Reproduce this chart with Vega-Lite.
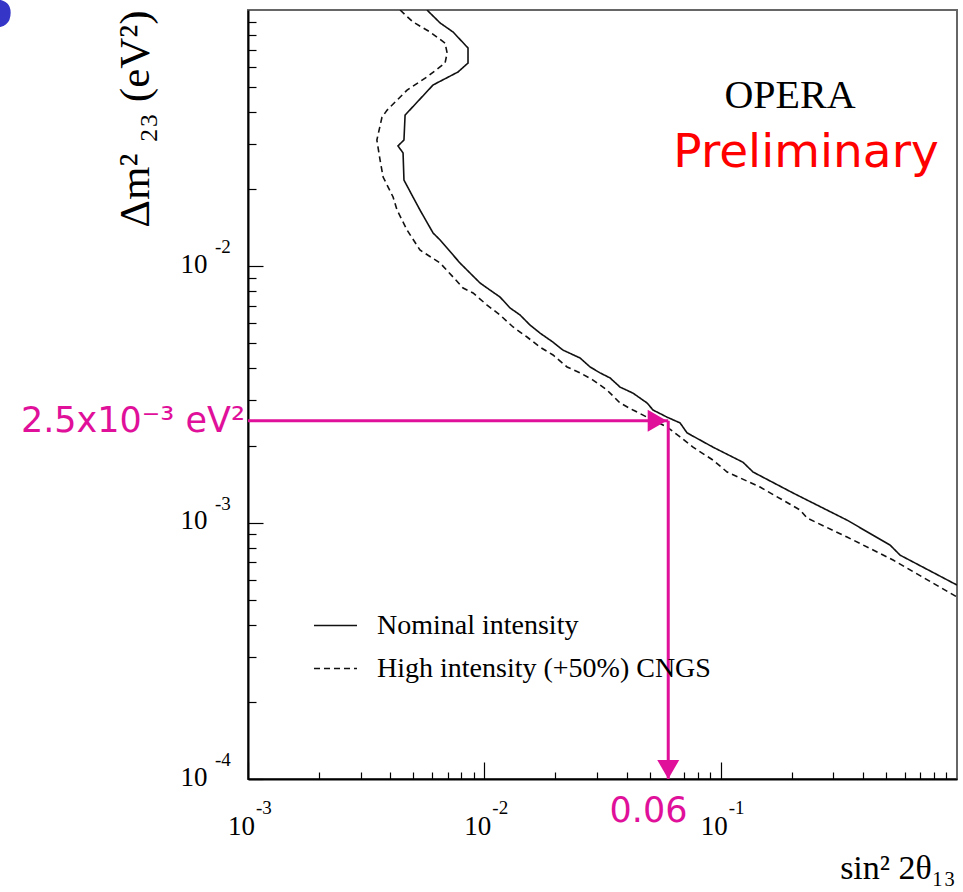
{
  "$schema": "https://vega.github.io/schema/vega-lite/v6.json",
  "width": 709,
  "height": 769,
  "autosize": {"type": "none"},
  "padding": {"left": 248, "top": 10, "right": 6, "bottom": 113},
  "background": "white",
  "config": {
    "view": {"stroke": "#666", "strokeWidth": 2},
    "legend": {"labelLimit": 0}
  },
  "datasets": {
    "curves": [
      {"series": "Nominal intensity", "order": 1, "x": 0.00572, "y": 0.1},
      {"series": "Nominal intensity", "order": 2, "x": 0.0065, "y": 0.089},
      {"series": "Nominal intensity", "order": 3, "x": 0.00737, "y": 0.0821},
      {"series": "Nominal intensity", "order": 4, "x": 0.00853, "y": 0.0711},
      {"series": "Nominal intensity", "order": 5, "x": 0.00853, "y": 0.0621},
      {"series": "Nominal intensity", "order": 6, "x": 0.00774, "y": 0.0573},
      {"series": "Nominal intensity", "order": 7, "x": 0.00607, "y": 0.051},
      {"series": "Nominal intensity", "order": 8, "x": 0.00462, "y": 0.0389},
      {"series": "Nominal intensity", "order": 9, "x": 0.00457, "y": 0.0311},
      {"series": "Nominal intensity", "order": 10, "x": 0.00431, "y": 0.0295},
      {"series": "Nominal intensity", "order": 11, "x": 0.00453, "y": 0.0277},
      {"series": "Nominal intensity", "order": 12, "x": 0.00457, "y": 0.0217},
      {"series": "Nominal intensity", "order": 13, "x": 0.00499, "y": 0.01864},
      {"series": "Nominal intensity", "order": 14, "x": 0.00534, "y": 0.01659},
      {"series": "Nominal intensity", "order": 15, "x": 0.00607, "y": 0.01349},
      {"series": "Nominal intensity", "order": 16, "x": 0.0065, "y": 0.01267},
      {"series": "Nominal intensity", "order": 17, "x": 0.00789, "y": 0.0103},
      {"series": "Nominal intensity", "order": 18, "x": 0.00959, "y": 0.00861},
      {"series": "Nominal intensity", "order": 19, "x": 0.01057, "y": 0.00808},
      {"series": "Nominal intensity", "order": 20, "x": 0.01165, "y": 0.00759},
      {"series": "Nominal intensity", "order": 21, "x": 0.01285, "y": 0.00688},
      {"series": "Nominal intensity", "order": 22, "x": 0.01416, "y": 0.00646},
      {"series": "Nominal intensity", "order": 23, "x": 0.01561, "y": 0.0059},
      {"series": "Nominal intensity", "order": 24, "x": 0.0172, "y": 0.00549},
      {"series": "Nominal intensity", "order": 25, "x": 0.01953, "y": 0.00506},
      {"series": "Nominal intensity", "order": 26, "x": 0.02153, "y": 0.00471},
      {"series": "Nominal intensity", "order": 27, "x": 0.02541, "y": 0.00439},
      {"series": "Nominal intensity", "order": 28, "x": 0.02801, "y": 0.00405},
      {"series": "Nominal intensity", "order": 29, "x": 0.03088, "y": 0.00384},
      {"series": "Nominal intensity", "order": 30, "x": 0.03404, "y": 0.00367},
      {"series": "Nominal intensity", "order": 31, "x": 0.03752, "y": 0.00338},
      {"series": "Nominal intensity", "order": 32, "x": 0.04258, "y": 0.0032},
      {"series": "Nominal intensity", "order": 33, "x": 0.04882, "y": 0.00293},
      {"series": "Nominal intensity", "order": 34, "x": 0.05175, "y": 0.00275},
      {"series": "Nominal intensity", "order": 35, "x": 0.05933, "y": 0.00258},
      {"series": "Nominal intensity", "order": 36, "x": 0.06733, "y": 0.00245},
      {"series": "Nominal intensity", "order": 37, "x": 0.07208, "y": 0.00224},
      {"series": "Nominal intensity", "order": 38, "x": 0.09288, "y": 0.00197},
      {"series": "Nominal intensity", "order": 39, "x": 0.1244, "y": 0.00172},
      {"series": "Nominal intensity", "order": 40, "x": 0.1371, "y": 0.001576},
      {"series": "Nominal intensity", "order": 41, "x": 0.2025, "y": 0.001305},
      {"series": "Nominal intensity", "order": 42, "x": 0.3426, "y": 0.001023},
      {"series": "Nominal intensity", "order": 43, "x": 0.5208, "y": 0.000818},
      {"series": "Nominal intensity", "order": 44, "x": 0.5743, "y": 0.000747},
      {"series": "Nominal intensity", "order": 45, "x": 1.0, "y": 0.000571},
      {"series": "High intensity (+50%) CNGS", "order": 1, "x": 0.0044, "y": 0.1},
      {"series": "High intensity (+50%) CNGS", "order": 2, "x": 0.00499, "y": 0.0898},
      {"series": "High intensity (+50%) CNGS", "order": 3, "x": 0.00589, "y": 0.0821},
      {"series": "High intensity (+50%) CNGS", "order": 4, "x": 0.00682, "y": 0.0743},
      {"series": "High intensity (+50%) CNGS", "order": 5, "x": 0.00696, "y": 0.068},
      {"series": "High intensity (+50%) CNGS", "order": 6, "x": 0.00682, "y": 0.0621},
      {"series": "High intensity (+50%) CNGS", "order": 7, "x": 0.00572, "y": 0.0548},
      {"series": "High intensity (+50%) CNGS", "order": 8, "x": 0.00471, "y": 0.0487},
      {"series": "High intensity (+50%) CNGS", "order": 9, "x": 0.00388, "y": 0.0407},
      {"series": "High intensity (+50%) CNGS", "order": 10, "x": 0.00369, "y": 0.0382},
      {"series": "High intensity (+50%) CNGS", "order": 11, "x": 0.00351, "y": 0.0311},
      {"series": "High intensity (+50%) CNGS", "order": 12, "x": 0.00362, "y": 0.026},
      {"series": "High intensity (+50%) CNGS", "order": 13, "x": 0.00373, "y": 0.0223},
      {"series": "High intensity (+50%) CNGS", "order": 14, "x": 0.00411, "y": 0.01864},
      {"series": "High intensity (+50%) CNGS", "order": 15, "x": 0.00427, "y": 0.01659},
      {"series": "High intensity (+50%) CNGS", "order": 16, "x": 0.00471, "y": 0.01386},
      {"series": "High intensity (+50%) CNGS", "order": 17, "x": 0.00534, "y": 0.01158},
      {"series": "High intensity (+50%) CNGS", "order": 18, "x": 0.0065, "y": 0.0103},
      {"series": "High intensity (+50%) CNGS", "order": 19, "x": 0.00737, "y": 0.00909},
      {"series": "High intensity (+50%) CNGS", "order": 20, "x": 0.00813, "y": 0.00823},
      {"series": "High intensity (+50%) CNGS", "order": 21, "x": 0.00896, "y": 0.00787},
      {"series": "High intensity (+50%) CNGS", "order": 22, "x": 0.01027, "y": 0.00706},
      {"series": "High intensity (+50%) CNGS", "order": 23, "x": 0.01165, "y": 0.00646},
      {"series": "High intensity (+50%) CNGS", "order": 24, "x": 0.01323, "y": 0.0058},
      {"series": "High intensity (+50%) CNGS", "order": 25, "x": 0.01516, "y": 0.0053},
      {"series": "High intensity (+50%) CNGS", "order": 26, "x": 0.0172, "y": 0.00484},
      {"series": "High intensity (+50%) CNGS", "order": 27, "x": 0.01953, "y": 0.00451},
      {"series": "High intensity (+50%) CNGS", "order": 28, "x": 0.02239, "y": 0.00405},
      {"series": "High intensity (+50%) CNGS", "order": 29, "x": 0.02541, "y": 0.00384},
      {"series": "High intensity (+50%) CNGS", "order": 30, "x": 0.02884, "y": 0.0036},
      {"series": "High intensity (+50%) CNGS", "order": 31, "x": 0.03306, "y": 0.00329},
      {"series": "High intensity (+50%) CNGS", "order": 32, "x": 0.03752, "y": 0.00293},
      {"series": "High intensity (+50%) CNGS", "order": 33, "x": 0.04258, "y": 0.00275},
      {"series": "High intensity (+50%) CNGS", "order": 34, "x": 0.04882, "y": 0.00258},
      {"series": "High intensity (+50%) CNGS", "order": 35, "x": 0.05933, "y": 0.00236},
      {"series": "High intensity (+50%) CNGS", "order": 36, "x": 0.06733, "y": 0.00216},
      {"series": "High intensity (+50%) CNGS", "order": 37, "x": 0.0764, "y": 0.00197},
      {"series": "High intensity (+50%) CNGS", "order": 38, "x": 0.09288, "y": 0.001754},
      {"series": "High intensity (+50%) CNGS", "order": 39, "x": 0.1065, "y": 0.001576},
      {"series": "High intensity (+50%) CNGS", "order": 40, "x": 0.1468, "y": 0.001377},
      {"series": "High intensity (+50%) CNGS", "order": 41, "x": 0.2168, "y": 0.00112},
      {"series": "High intensity (+50%) CNGS", "order": 42, "x": 0.2321, "y": 0.001042},
      {"series": "High intensity (+50%) CNGS", "order": 43, "x": 0.3426, "y": 0.000879},
      {"series": "High intensity (+50%) CNGS", "order": 44, "x": 0.5365, "y": 0.000715},
      {"series": "High intensity (+50%) CNGS", "order": 45, "x": 1.0, "y": 0.000513}
    ]
  },
  "layer": [
    {
      "data": {"name": "curves"},
      "mark": {"type": "line", "color": "#111", "strokeWidth": 1.6, "clip": true},
      "encoding": {
        "x": {
          "field": "x", "type": "quantitative",
          "scale": {"type": "log", "domain": [0.001, 1], "nice": false},
          "title": "sin² 2θ₁₃",
          "axis": {
            "values": [0.001, 0.002, 0.003, 0.004, 0.005, 0.006, 0.007, 0.008, 0.009, 0.01, 0.02, 0.03, 0.04, 0.05, 0.06, 0.07, 0.08, 0.09, 0.1, 0.2, 0.3, 0.4, 0.5, 0.6, 0.7, 0.8, 0.9],
            "labelExpr": "abs(log(datum.value)/LN10 - round(log(datum.value)/LN10)) < 0.001 ? '10' : ''",
            "tickSize": {"condition": {"test": "abs(log(datum.value)/LN10 - round(log(datum.value)/LN10)) < 0.001", "value": -17}, "value": -7},
            "tickColor": "#000", "tickWidth": 1.2,
            "domainColor": "#000", "domainWidth": 2,
            "grid": false,
            "labelFont": "Liberation Serif", "labelFontSize": 27, "labelColor": "#000",
            "labelBaseline": "alphabetic", "labelAlign": "center", "labelOffset": -7, "labelPadding": 72,
            "labelOverlap": false, "labelFlush": false, "labelBound": false,
            "titleFont": "Liberation Serif", "titleFontSize": 34, "titleFontWeight": "normal", "titleColor": "#000",
            "titleAlign": "right", "titleBaseline": "alphabetic", "titleAngle": 0, "titleX": 707, "titleY": 99
          }
        },
        "y": {
          "field": "y", "type": "quantitative",
          "scale": {"type": "log", "domain": [0.0001, 0.1], "nice": false},
          "title": "Δm² ₂₃ (eV²)",
          "axis": {
            "values": [0.0001, 0.0002, 0.0003, 0.0004, 0.0005, 0.0006, 0.0007, 0.0008, 0.0009, 0.001, 0.002, 0.003, 0.004, 0.005, 0.006, 0.007, 0.008, 0.009, 0.01, 0.02, 0.03, 0.04, 0.05, 0.06, 0.07, 0.08, 0.09],
            "labelExpr": "abs(log(datum.value)/LN10 - round(log(datum.value)/LN10)) < 0.001 ? '10' : ''",
            "tickSize": {"condition": {"test": "abs(log(datum.value)/LN10 - round(log(datum.value)/LN10)) < 0.001", "value": -15}, "value": -8},
            "tickColor": "#000", "tickWidth": 1.2,
            "domainColor": "#000", "domainWidth": 2,
            "grid": false,
            "labelFont": "Liberation Serif", "labelFontSize": 27, "labelColor": "#000",
            "labelBaseline": "middle", "labelAlign": "right", "labelOffset": -2, "labelPadding": 56,
            "labelOverlap": false, "labelFlush": false, "labelBound": false,
            "titleFont": "Liberation Serif", "titleFontSize": 43, "titleFontWeight": "normal", "titleColor": "#000",
            "titleAlign": "right", "titleBaseline": "alphabetic", "titleAngle": 270, "titleX": -100, "titleY": 0
          }
        },
        "order": {"field": "order", "type": "quantitative"},
        "strokeDash": {
          "field": "series", "type": "nominal",
          "scale": {"domain": ["Nominal intensity", "High intensity (+50%) CNGS"], "range": [[1, 0], [6, 4]]},
          "legend": {
            "title": null, "orient": "none", "legendX": 65, "legendY": 593,
            "padding": 0, "rowPadding": 6,
            "symbolType": "stroke", "symbolSize": 1849, "symbolStrokeWidth": 1.4, "symbolStrokeColor": "#111",
            "labelFont": "Liberation Serif", "labelFontSize": 28, "labelColor": "#000", "labelOffset": 19
          }
        }
      }
    },
    {
      "data": {"values": [
        {"x": 0.001, "x2": 0.06, "y": 0.0025, "y2": 0.0025},
        {"x": 0.06, "x2": 0.06, "y": 0.0025, "y2": 0.0001}
      ]},
      "mark": {"type": "rule", "color": "#e0109a", "strokeWidth": 3},
      "encoding": {
        "x": {"field": "x", "type": "quantitative"},
        "x2": {"field": "x2"},
        "y": {"field": "y", "type": "quantitative"},
        "y2": {"field": "y2"}
      }
    },
    {
      "data": {"values": [{"x": 0.06, "y": 0.0025}]},
      "mark": {"type": "point", "shape": "triangle-right", "filled": true, "size": 484, "color": "#e0109a", "opacity": 1, "xOffset": -11},
      "encoding": {
        "x": {"field": "x", "type": "quantitative"},
        "y": {"field": "y", "type": "quantitative"}
      }
    },
    {
      "data": {"values": [{"x": 0.06, "y": 0.0001}]},
      "mark": {"type": "point", "shape": "triangle-down", "filled": true, "size": 484, "color": "#e0109a", "opacity": 1, "yOffset": -9.5},
      "encoding": {
        "x": {"field": "x", "type": "quantitative"},
        "y": {"field": "y", "type": "quantitative"}
      }
    },
    {
      "data": {"values": [{"x": 0.1966, "y": 0.0415, "label": "OPERA"}]},
      "mark": {"type": "text", "font": "Liberation Serif", "fontSize": 40, "color": "#000", "align": "center", "baseline": "alphabetic"},
      "encoding": {
        "x": {"field": "x", "type": "quantitative"},
        "y": {"field": "y", "type": "quantitative"},
        "text": {"field": "label"}
      }
    },
    {
      "data": {"values": [{"x": 0.2298, "y": 0.0244, "label": "Preliminary"}]},
      "mark": {"type": "text", "font": "DejaVu Sans", "fontSize": 47, "color": "#ff0000", "align": "center", "baseline": "alphabetic"},
      "encoding": {
        "x": {"field": "x", "type": "quantitative"},
        "y": {"field": "y", "type": "quantitative"},
        "text": {"field": "label"}
      }
    },
    {
      "data": {"values": [{"x": 0.0495, "y": 0.0000679, "label": "0.06"}]},
      "mark": {"type": "text", "font": "DejaVu Sans", "fontSize": 35, "color": "#e0109a", "align": "center", "baseline": "alphabetic"},
      "encoding": {
        "x": {"field": "x", "type": "quantitative"},
        "y": {"field": "y", "type": "quantitative"},
        "text": {"field": "label"}
      }
    },
    {
      "data": {"values": [{"x": 0.001, "y": 0.0025, "label": "2.5x10⁻³ eV²"}]},
      "mark": {"type": "text", "font": "DejaVu Sans", "fontSize": 35, "color": "#e0109a", "align": "right", "baseline": "middle", "dx": -3},
      "encoding": {
        "x": {"field": "x", "type": "quantitative"},
        "y": {"field": "y", "type": "quantitative"},
        "text": {"field": "label"}
      }
    },
    {
      "data": {"values": [{"x": 0.0000829, "y": 0.0859, "label": "S"}]},
      "mark": {"type": "text", "font": "DejaVu Sans", "fontSize": 64, "fontWeight": "bold", "color": "#3535c8", "align": "center", "baseline": "alphabetic"},
      "encoding": {
        "x": {"field": "x", "type": "quantitative"},
        "y": {"field": "y", "type": "quantitative"},
        "text": {"field": "label"}
      }
    },
    {
      "data": {"values": [{"x": 0.001, "y": 0.0001, "e": "-3"}, {"x": 0.01, "y": 0.0001, "e": "-2"}, {"x": 0.1, "y": 0.0001, "e": "-1"}]},
      "mark": {"type": "text", "font": "Liberation Serif", "fontSize": 19, "color": "#000", "align": "left", "baseline": "middle", "dx": 8, "dy": 29},
      "encoding": {
        "x": {"field": "x", "type": "quantitative"},
        "y": {"field": "y", "type": "quantitative"},
        "text": {"field": "e"}
      }
    },
    {
      "data": {"values": [{"x": 0.001, "y": 0.01, "e": "-2"}, {"x": 0.001, "y": 0.001, "e": "-3"}, {"x": 0.001, "y": 0.0001, "e": "-4"}]},
      "mark": {"type": "text", "font": "Liberation Serif", "fontSize": 19, "color": "#000", "align": "left", "baseline": "middle", "dx": -33, "dy": -19},
      "encoding": {
        "x": {"field": "x", "type": "quantitative"},
        "y": {"field": "y", "type": "quantitative"},
        "text": {"field": "e"}
      }
    }
  ]
}
